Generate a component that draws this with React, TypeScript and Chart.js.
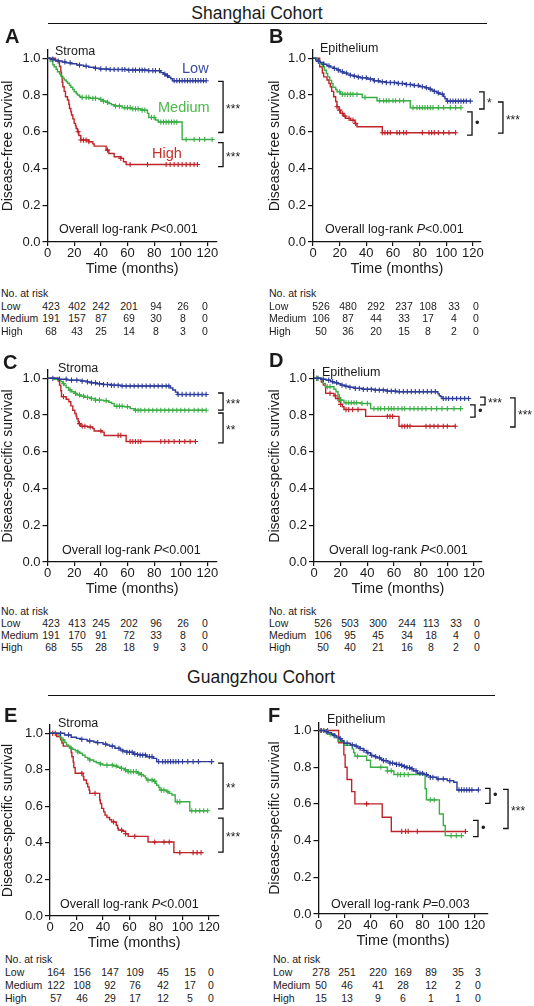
import React, { useEffect, useRef } from "react";
import { Chart, registerables } from "chart.js";

Chart.register(...registerables);

const FONT = "'Liberation Sans', Arial, Helvetica, sans-serif";
const BLUE = "#2d3c9c";
const GREEN = "#3aae45";
const RED = "#bf2329";
const LABEL_BLUE = "#3a4da6";
const LABEL_GREEN = "#4cb74a";
const LABEL_RED = "#c3302c";

const X_TICKS = [0, 20, 40, 60, 80, 100, 120];
const Y_TICKS = [0, 0.2, 0.4, 0.6, 0.8, 1.0];
const GROUPS = ["Low", "Medium", "High"];
const Y_MAX = 1.045;

// ---------- Panel A: Shanghai, Stroma, disease-free ----------
const A_LOW = [[0, 1], [2, 0.995], [5, 0.99], [8, 0.985], [11, 0.98], [14, 0.975], [18, 0.97], [22, 0.963], [27, 0.957], [31, 0.951], [35, 0.946], [39, 0.942], [46, 0.939], [60, 0.936], [75, 0.933], [85, 0.922], [87, 0.914], [89, 0.905], [91, 0.897], [92.5, 0.889], [94, 0.878]];
const A_MED = [[0, 1], [2, 0.985], [4, 0.965], [5, 0.954], [6.5, 0.94], [7.5, 0.927], [9, 0.915], [10, 0.903], [11.5, 0.892], [12.5, 0.882], [14, 0.873], [15, 0.864], [16.5, 0.853], [17.5, 0.842], [19, 0.83], [20, 0.818], [21.5, 0.808], [22.5, 0.8], [24, 0.792], [25, 0.787], [32, 0.782], [39, 0.776], [41, 0.767], [44, 0.76], [46, 0.754], [48, 0.747], [50, 0.74], [56, 0.731], [63, 0.725], [70, 0.718], [75, 0.7], [76, 0.678], [81, 0.664], [83, 0.653], [101, 0.558]];
const A_HIGH = [[0, 1], [6, 0.985], [9, 0.955], [10, 0.925], [10.5, 0.9], [11, 0.87], [11.5, 0.845], [12.5, 0.82], [13.5, 0.791], [15, 0.773], [16, 0.75], [16.5, 0.727], [17.5, 0.709], [18, 0.691], [19, 0.67], [20, 0.646], [21, 0.632], [21.5, 0.618], [22.5, 0.6], [23.5, 0.58], [25, 0.555], [31, 0.546], [34, 0.534], [35, 0.522], [44, 0.5], [46, 0.482], [50, 0.464], [55, 0.455], [57, 0.437], [59, 0.422]];
const A_END = [119, 123.5, 112.5];
const A_LOW_CENS = [4, 8, 13, 17, 24, 29, 36, 40, 44, 47, 50, 53, 56, 58, 61, 64, 66, 69, 71, 73, 76, 79, 81, 84, 88, 90, 95, 97, 99, 101, 103, 105, 107, 109, 111, 113, 115, 117, 119];
const A_MED_CENS = [26, 29, 31, 34, 36, 40, 42, 45, 51, 54, 58, 60, 62, 64, 66, 68, 71, 73, 78, 80, 85, 87, 89, 91, 93, 95, 97, 104, 110, 114, 118, 123.5];
const A_HIGH_CENS = [23, 25, 27, 29, 31, 45, 55, 62, 75, 89, 92, 95, 98, 101, 104, 107, 110, 112.5];
const RISK_A = [[423, 402, 242, 201, 94, 26, 0], [191, 157, 87, 69, 30, 8, 0], [68, 43, 25, 14, 8, 3, 0]];

// ---------- Panel B: Shanghai, Epithelium, disease-free ----------
const B_LOW = [[0, 1], [2, 0.99], [4, 0.983], [5.5, 0.977], [8, 0.968], [10.5, 0.959], [13, 0.952], [15.5, 0.945], [18, 0.936], [20.5, 0.927], [23, 0.92], [25.5, 0.914], [28, 0.908], [30.5, 0.903], [33, 0.898], [35.5, 0.894], [40.5, 0.887], [45.5, 0.878], [50, 0.872], [55, 0.868], [63, 0.863], [70, 0.857], [75, 0.852], [80, 0.846], [84, 0.84], [87, 0.832], [89, 0.827], [91, 0.82], [93, 0.812], [95, 0.805], [98, 0.792], [99, 0.78], [100.5, 0.767]];
const B_MED = [[0, 1], [3, 0.985], [5, 0.97], [7, 0.954], [8.5, 0.935], [10, 0.917], [11, 0.899], [12.5, 0.88], [14, 0.862], [15, 0.842], [17, 0.83], [18, 0.818], [20.5, 0.804], [37, 0.787], [48, 0.769], [73, 0.731]];
const B_HIGH = [[0, 1], [5, 0.954], [7, 0.92], [8, 0.899], [10.5, 0.882], [12, 0.863], [13, 0.845], [14, 0.82], [15.5, 0.791], [17, 0.765], [18, 0.736], [19.5, 0.718], [20.5, 0.7], [23, 0.685], [24.5, 0.673], [28, 0.663], [31.5, 0.645], [33, 0.627], [52, 0.595]];
const B_END = [118, 111, 107];
const B_LOW_CENS = [4, 8, 12, 16, 19, 22, 25, 28, 31, 34, 37, 40, 43, 46, 49, 52, 55, 58, 61, 64, 67, 70, 73, 76, 79, 82, 85, 88, 91, 94, 97, 101, 103, 105, 107, 109, 111, 113, 115, 118];
const B_MED_CENS = [20, 22, 24, 26, 28, 30, 33, 39, 50, 53, 55, 57, 60, 62, 65, 68, 75, 78, 80, 82, 84, 86, 88, 90, 94, 98, 103, 107, 111];
const B_HIGH_CENS = [18, 20, 22, 24, 27, 30, 32, 52, 54, 56, 58, 63, 65, 68, 70, 82, 87, 89, 91, 94, 98, 102, 107];
const RISK_B = [[526, 480, 292, 237, 108, 33, 0], [106, 87, 44, 33, 17, 4, 0], [50, 36, 20, 15, 8, 2, 0]];

// ---------- Panel C: Shanghai, Stroma, disease-specific ----------
const C_LOW = [[0, 1], [8, 0.995], [15, 0.99], [25, 0.985], [30, 0.98], [33, 0.975], [37, 0.97], [42, 0.966], [48, 0.962], [55, 0.958], [92, 0.947], [94, 0.936], [96, 0.925], [97.5, 0.912]];
const C_MED = [[0, 1], [5, 0.995], [8, 0.99], [10, 0.982], [11.5, 0.972], [12.5, 0.963], [14, 0.95], [16, 0.936], [18, 0.927], [20, 0.918], [22, 0.91], [25, 0.903], [28, 0.896], [32, 0.89], [36, 0.881], [42, 0.878], [46, 0.87], [48, 0.863], [50, 0.848], [58, 0.845], [62, 0.835], [65, 0.826]];
const C_HIGH = [[0, 1], [8, 0.985], [9, 0.963], [10, 0.932], [10.5, 0.9], [14, 0.886], [16, 0.872], [17.5, 0.85], [19, 0.826], [20.5, 0.808], [21.5, 0.794], [22, 0.78], [23, 0.765], [23.5, 0.753], [25, 0.739], [30, 0.735], [34, 0.726], [35, 0.713], [41, 0.707], [42.5, 0.689], [59, 0.656]];
const C_END = [119, 119, 111];
const C_LOW_CENS = [4, 9, 14, 18, 22, 26, 30, 33, 36, 39, 42, 45, 48, 50, 53, 56, 59, 62, 65, 68, 71, 74, 77, 80, 83, 86, 89, 91, 98, 101, 104, 107, 110, 113, 116, 119];
const C_MED_CENS = [12, 17, 21, 24, 27, 30, 33, 36, 39, 44, 52, 54, 56, 60, 66, 68, 70, 73, 76, 79, 82, 85, 88, 91, 94, 97, 100, 103, 106, 110, 113, 116, 119];
const C_HIGH_CENS = [12, 24, 26, 28, 32, 40, 53, 55, 62, 64, 66, 68, 70, 85, 88, 91, 95, 99, 103, 107, 111];
const RISK_C = [[423, 413, 245, 202, 96, 26, 0], [191, 170, 91, 72, 33, 8, 0], [68, 55, 28, 18, 9, 3, 0]];

// ---------- Panel D: Shanghai, Epithelium, disease-specific ----------
const D_LOW = [[0, 1], [5, 0.995], [9, 0.99], [12.5, 0.982], [15, 0.976], [18, 0.97], [20, 0.963], [23, 0.957], [26, 0.951], [30, 0.945], [37, 0.94], [45, 0.936], [55, 0.93], [62, 0.927], [93, 0.915], [94, 0.905], [95, 0.9], [96, 0.89]];
const D_MED = [[0, 1], [6, 0.99], [7, 0.972], [8.5, 0.954], [15, 0.94], [16.5, 0.927], [18, 0.91], [19, 0.895], [20, 0.881], [22.5, 0.867], [35, 0.863], [42.5, 0.835]];
const D_HIGH = [[0, 1], [5.5, 0.98], [7, 0.963], [8.75, 0.918], [15, 0.905], [16.25, 0.89], [18.75, 0.872], [20, 0.858], [21.25, 0.845], [22.5, 0.83], [38.75, 0.793], [63.75, 0.739]];
const D_END = [116, 110, 106];
const D_LOW_CENS = [3, 7, 11, 14, 17, 21, 24, 27, 31, 34, 37, 40, 43, 46, 49, 52, 55, 58, 61, 64, 67, 70, 73, 76, 79, 82, 85, 88, 91, 97, 99, 101, 104, 107, 110, 113, 116];
const D_MED_CENS = [2, 10, 12, 20, 24, 26, 28, 30, 32, 36, 40, 45, 48, 50, 53, 56, 58, 60, 63, 66, 68, 72, 75, 78, 81, 84, 88, 92, 96, 100, 105, 110];
const D_HIGH_CENS = [2, 12, 16, 18, 20, 24, 26, 29, 33, 55, 57, 59, 66, 68, 70, 72, 84, 87, 90, 93, 97, 100, 106];
const RISK_D = [[526, 503, 300, 244, 113, 33, 0], [106, 95, 45, 34, 18, 4, 0], [50, 40, 21, 16, 8, 2, 0]];

// ---------- Panel E: Guangzhou, Stroma, disease-specific ----------
const E_LOW = [[0, 1], [11, 0.991], [16, 0.978], [20, 0.972], [23, 0.967], [28, 0.958], [33, 0.952], [35, 0.949], [40, 0.941], [43, 0.936], [45, 0.93], [49, 0.918], [53, 0.909], [55, 0.903], [58, 0.896], [63, 0.887], [66, 0.884], [68, 0.881], [73, 0.872], [78, 0.863], [80.5, 0.845]];
const E_MED = [[0, 1], [6, 0.991], [7.5, 0.977], [9, 0.963], [11, 0.95], [12.5, 0.936], [14, 0.927], [15, 0.918], [17, 0.912], [19, 0.905], [21, 0.898], [22.5, 0.891], [24.5, 0.88], [26.5, 0.868], [28.5, 0.861], [30, 0.854], [33, 0.846], [35, 0.839], [38, 0.832], [40, 0.826], [48, 0.821], [51, 0.814], [53, 0.808], [56, 0.8], [59, 0.79], [66, 0.781], [69, 0.774], [70.5, 0.766], [72, 0.755], [73, 0.744], [78, 0.738], [79.5, 0.727], [80.5, 0.716], [82, 0.703], [83, 0.689], [88, 0.68], [90, 0.671], [92, 0.662], [94.5, 0.625], [105.5, 0.576]];
const E_HIGH = [[0, 1], [5, 0.982], [8, 0.965], [9, 0.947], [10, 0.93], [15, 0.918], [16, 0.895], [16.5, 0.872], [17.5, 0.842], [18, 0.812], [19, 0.781], [25, 0.763], [25.5, 0.744], [27.5, 0.725], [28.5, 0.707], [29.5, 0.689], [30, 0.671], [37.5, 0.635], [38, 0.616], [39, 0.589], [40.5, 0.57], [41.5, 0.552], [43, 0.539], [45, 0.527], [46.5, 0.515], [50, 0.497], [51, 0.482], [51.5, 0.47], [55, 0.464], [57, 0.45], [59, 0.436], [74, 0.405], [93.5, 0.347]];
const E_END = [122, 119, 114];
const E_LOW_CENS = [8, 14, 24, 30, 36, 42, 47, 52, 55, 58, 60, 62, 64, 66, 68, 70, 72, 75, 77, 82, 85, 87, 89, 91, 93, 95, 97, 100, 104, 108, 112, 122];
const E_MED_CENS = [10, 16, 21, 30, 38, 43, 47, 50, 54, 57, 59, 61, 63, 65, 67, 69, 74, 77, 79, 84, 86, 89, 96, 98, 107, 110, 113, 116, 119];
const E_HIGH_CENS = [2, 4, 24, 34, 48, 54, 57, 64, 79, 86, 90, 98, 108, 111, 114];
const RISK_E = [[164, 156, 147, 109, 45, 15, 0], [122, 108, 92, 76, 42, 17, 0], [57, 46, 29, 17, 12, 5, 0]];

// ---------- Panel F: Guangzhou, Epithelium, disease-specific ----------
const F_LOW = [[0, 1], [5, 0.994], [7, 0.988], [10, 0.98], [12, 0.972], [14, 0.964], [16, 0.955], [18, 0.944], [19.5, 0.931], [24.5, 0.922], [28, 0.915], [30, 0.91], [32, 0.902], [34.5, 0.891], [37, 0.879], [40, 0.864], [43, 0.858], [45, 0.851], [48, 0.843], [50, 0.836], [53, 0.829], [55, 0.822], [60, 0.815], [63, 0.81], [65.5, 0.804], [68, 0.798], [70.5, 0.791], [73, 0.78], [76, 0.767], [81, 0.76], [84, 0.753], [86, 0.745], [91, 0.736], [99, 0.727], [104, 0.718], [106.5, 0.676]];
const F_MED = [[0, 1], [7, 0.98], [13, 0.96], [15, 0.94], [20, 0.92], [26, 0.9], [27, 0.88], [28, 0.86], [37, 0.838], [40, 0.8], [53, 0.78], [58, 0.76], [82, 0.683], [83, 0.622], [93, 0.545], [96, 0.482], [97.5, 0.427]];
const F_HIGH = [[0, 1], [15.5, 0.933], [19.5, 0.867], [20.5, 0.8], [22, 0.733], [25.5, 0.667], [28, 0.6], [49, 0.527], [56, 0.45]];
const F_END = [123, 110, 113];
const F_LOW_CENS = [2, 6, 12, 17, 22, 26, 29, 32, 35, 38, 41, 44, 47, 50, 52, 55, 57, 60, 62, 64, 66, 68, 70, 72, 75, 78, 80, 83, 86, 88, 92, 96, 101, 108, 110, 112, 114, 116, 118, 123];
const F_MED_CENS = [4, 9, 30, 48, 53, 56, 61, 63, 66, 69, 86, 89, 102, 106, 110];
const F_HIGH_CENS = [2, 4, 7, 37, 64, 67, 69, 76, 113];
const RISK_F = [[278, 251, 220, 169, 89, 35, 3], [50, 46, 41, 28, 12, 2, 0], [15, 13, 9, 6, 1, 1, 0]];

type Curve = { steps: number[][]; end: number; cens: number[]; color: string };
type Bracket = { hi: number; lo: number; at: number; mark: string };
type PanelCfg = {
  id: string; col: number; axisLeft: number; pxPerMo: number; xMax: number;
  y1: number; y0: number; yTitle: string; curves: Curve[]; brackets: Bracket[];
};

function mkCurves(steps: number[][][], ends: number[], cens: number[][]): Curve[] {
  const colors = [BLUE, GREEN, RED];
  return steps.map((s, i) => ({ steps: s, end: ends[i], cens: cens[i], color: colors[i] }));
}

const PANELS: PanelCfg[] = [
  {
    id: "A", col: 0, axisLeft: 47.5, pxPerMo: 1.333, xMax: 127, y1: 58.3, y0: 242,
    yTitle: "Disease-free survival",
    curves: mkCurves([A_LOW, A_MED, A_HIGH], A_END, [A_LOW_CENS, A_MED_CENS, A_HIGH_CENS]),
    brackets: [
      { hi: 0.874, lo: 0.596, at: 131.7, mark: "***" },
      { hi: 0.541, lo: 0.41, at: 131.7, mark: "***" },
    ],
  },
  {
    id: "B", col: 267, axisLeft: 313, pxPerMo: 1.333, xMax: 126, y1: 58.3, y0: 242,
    yTitle: "Disease-free survival",
    curves: mkCurves([B_LOW, B_MED, B_HIGH], B_END, [B_LOW_CENS, B_MED_CENS, B_HIGH_CENS]),
    brackets: [
      { hi: 0.817, lo: 0.724, at: 128.3, mark: "*" },
      { hi: 0.708, lo: 0.582, at: 119.3, mark: "\u2022" },
      { hi: 0.762, lo: 0.593, at: 142.5, mark: "***" },
    ],
  },
  {
    id: "C", col: 0, axisLeft: 47.5, pxPerMo: 1.333, xMax: 127, y1: 378.3, y0: 562,
    yTitle: "Disease-specific survival",
    curves: mkCurves([C_LOW, C_MED, C_HIGH], C_END, [C_LOW_CENS, C_MED_CENS, C_HIGH_CENS]),
    brackets: [
      { hi: 0.92, lo: 0.827, at: 131.7, mark: "***" },
      { hi: 0.811, lo: 0.648, at: 131.7, mark: "**" },
    ],
  },
  {
    id: "D", col: 267, axisLeft: 314, pxPerMo: 1.333, xMax: 126, y1: 378.3, y0: 562,
    yTitle: "Disease-specific survival",
    curves: mkCurves([D_LOW, D_MED, D_HIGH], D_END, [D_LOW_CENS, D_MED_CENS, D_HIGH_CENS]),
    brackets: [
      { hi: 0.898, lo: 0.855, at: 128.3, mark: "***" },
      { hi: 0.855, lo: 0.789, at: 120.8, mark: "\u2022" },
      { hi: 0.893, lo: 0.735, at: 150.8, mark: "***" },
    ],
  },
  {
    id: "E", col: 0, axisLeft: 50, pxPerMo: 1.325, xMax: 127, y1: 733.3, y0: 916,
    yTitle: "Disease-specific survival",
    curves: mkCurves([E_LOW, E_MED, E_HIGH], E_END, [E_LOW_CENS, E_MED_CENS, E_HIGH_CENS]),
    brackets: [
      { hi: 0.837, lo: 0.586, at: 130.6, mark: "**" },
      { hi: 0.536, lo: 0.35, at: 130.6, mark: "***" },
    ],
  },
  {
    id: "F", col: 267, axisLeft: 318.5, pxPerMo: 1.3, xMax: 130, y1: 730.5, y0: 913.5,
    yTitle: "Disease-specific survival",
    curves: mkCurves([F_LOW, F_MED, F_HIGH], F_END, [F_LOW_CENS, F_MED_CENS, F_HIGH_CENS]),
    brackets: [
      { hi: 0.685, lo: 0.603, at: 131.9, mark: "\u2022" },
      { hi: 0.51, lo: 0.422, at: 122.7, mark: "\u2022" },
      { hi: 0.679, lo: 0.466, at: 145.8, mark: "***" },
    ],
  },
];

function survAt(steps: number[][], t: number): number {
  let v = 1;
  for (const [x, y] of steps) if (x <= t) v = y;
  return v;
}

const PANEL_W = 267;
const X_SCALE_H = 36;

function KMPanel({ cfg }: { cfg: PanelCfg }) {
  const ref = useRef<HTMLCanvasElement | null>(null);
  const canvasTop = Math.round(cfg.y1 - 24);
  const height = Math.round(cfg.y0 + X_SCALE_H - canvasTop);

  useEffect(() => {
    if (!ref.current) return;
    const yTopPx = cfg.y0 - (cfg.y0 - cfg.y1) * Y_MAX;
    const xRightPx = cfg.axisLeft + cfg.xMax * cfg.pxPerMo;
    const datasets: any[] = [];
    cfg.curves.forEach((c) => {
      const pts = c.steps.map(([x, y]) => ({ x, y }));
      pts.push({ x: c.end, y: c.steps[c.steps.length - 1][1] });
      datasets.push({
        data: pts, borderColor: c.color, borderWidth: 1.4, stepped: true,
        pointRadius: 0, fill: false,
      });
      datasets.push({
        data: c.cens.map((t) => ({ x: t, y: survAt(c.steps, t) })),
        showLine: false, pointStyle: "cross", pointRadius: 2.6, pointBorderWidth: 1.1,
        borderColor: c.color, backgroundColor: c.color, pointBorderColor: c.color,
      });
    });

    const bracketPlugin = {
      id: "brackets" + cfg.id,
      afterDatasetsDraw(chart: any) {
        const ctx = chart.ctx;
        const xs = chart.scales.x;
        const ys = chart.scales.y;
        ctx.save();
        for (const b of cfg.brackets) {
          const x = xs.getPixelForValue(b.at);
          const yT = ys.getPixelForValue(b.hi);
          const yB = ys.getPixelForValue(b.lo);
          ctx.strokeStyle = "#111";
          ctx.lineWidth = 1.3;
          ctx.beginPath();
          ctx.moveTo(x - 5, yT);
          ctx.lineTo(x, yT);
          ctx.lineTo(x, yB);
          ctx.lineTo(x - 5, yB);
          ctx.stroke();
          ctx.fillStyle = "#222";
          ctx.font = `${b.mark === "\u2022" ? 13 : 12}px ${FONT}`;
          ctx.textAlign = "left";
          ctx.textBaseline = "middle";
          const dy = b.mark.includes("*") ? 3 : 0;
          ctx.fillText(b.mark, x + 3, (yT + yB) / 2 + dy);
        }
        ctx.restore();
      },
    };

    const tickFont = { family: FONT, size: 13 };
    const chart = new Chart(ref.current, {
      type: "line",
      data: { datasets },
      plugins: [bracketPlugin],
      options: {
        responsive: false,
        animation: false,
        devicePixelRatio: 1,
        events: [],
        layout: {
          padding: {
            left: 0,
            top: yTopPx - canvasTop,
            right: PANEL_W - (xRightPx - cfg.col),
            bottom: 0,
          },
        },
        plugins: { legend: { display: false }, tooltip: { enabled: false } },
        scales: {
          x: {
            type: "linear",
            min: 0,
            max: cfg.xMax,
            afterBuildTicks: (s: any) => { s.ticks = X_TICKS.map((v) => ({ value: v })); },
            afterFit: (s: any) => { s.height = X_SCALE_H; },
            grid: { drawOnChartArea: false, drawTicks: true, tickLength: 4, color: "#111", lineWidth: 1.2 },
            border: { display: true, color: "#111", width: 1.3 },
            ticks: { font: tickFont, color: "#1a1a1a", padding: 0, maxRotation: 0, autoSkip: false },
            title: { display: true, text: "Time (months)", font: { family: FONT, size: 14.5 }, color: "#1a1a1a", padding: 0 },
          },
          y: {
            type: "linear",
            min: 0,
            max: Y_MAX,
            afterBuildTicks: (s: any) => { s.ticks = Y_TICKS.map((v) => ({ value: v })); },
            afterFit: (s: any) => { s.width = cfg.axisLeft - cfg.col; },
            grid: { drawOnChartArea: false, drawTicks: true, tickLength: 5, color: "#111", lineWidth: 1.2 },
            border: { display: true, color: "#111", width: 1.3 },
            ticks: { font: tickFont, color: "#1a1a1a", padding: 2, callback: (v: any) => Number(v).toFixed(1) },
            title: { display: true, text: cfg.yTitle, font: { family: FONT, size: 14 }, color: "#1a1a1a", padding: 0 },
          },
        },
      } as any,
    });
    return () => chart.destroy();
  }, [cfg]);

  return (
    <canvas
      ref={ref}
      width={PANEL_W}
      height={height}
      style={{ position: "absolute", left: cfg.col, top: canvasTop, width: PANEL_W, height }}
    />
  );
}

function Txt(props: {
  x: number; y: number; size: number; children: React.ReactNode;
  bold?: boolean; color?: string; anchor?: "start" | "middle";
}) {
  const { x, y, size, children, bold, color, anchor } = props;
  return (
    <div
      style={{
        position: "absolute", left: x, top: y, fontSize: size, fontFamily: FONT,
        fontWeight: bold ? 700 : 400, color: color || "#1a1a1a", whiteSpace: "nowrap",
        lineHeight: 1.15, transform: `translate(${anchor === "middle" ? "-50%" : "0"}, -50%)`,
      }}
    >
      {children}
    </div>
  );
}

function RiskTable({ labelX, cols, ys, rows }: { labelX: number; cols: number[]; ys: number[]; rows: number[][] }) {
  return (
    <>
      <Txt x={labelX} y={ys[0]} size={10.5}>No. at risk</Txt>
      {rows.map((r, i) => (
        <React.Fragment key={i}>
          <Txt x={labelX} y={ys[i + 1]} size={10.5}>{GROUPS[i]}</Txt>
          {r.map((v, j) => (
            <Txt key={j} x={cols[j]} y={ys[i + 1]} size={10.5} anchor="middle">{v}</Txt>
          ))}
        </React.Fragment>
      ))}
    </>
  );
}

function LogRank({ x, y, p }: { x: number; y: number; p: string }) {
  return (
    <Txt x={x} y={y} size={12.5}>
      Overall log-rank <i>P</i>{p}
    </Txt>
  );
}

export default function App() {
  return (
    <div
      style={{
        position: "absolute", left: 0, top: 0, width: 534, height: 1006,
        background: "#fff", overflow: "hidden", fontFamily: FONT,
      }}
    >
      <Txt x={257} y={13} size={17.5} anchor="middle">Shanghai Cohort</Txt>
      <div style={{ position: "absolute", left: 48, top: 22.5, width: 439, height: 0, borderTop: "1.3px solid #111" }} />
      <Txt x={261} y={677} size={17.5} anchor="middle">Guangzhou Cohort</Txt>
      <div style={{ position: "absolute", left: 48, top: 694.5, width: 447, height: 0, borderTop: "1.3px solid #111" }} />

      {PANELS.map((p) => (
        <KMPanel key={p.id} cfg={p} />
      ))}

      <Txt x={5} y={36} size={20} bold>A</Txt>
      <Txt x={269} y={36} size={20} bold>B</Txt>
      <Txt x={3} y={362} size={20} bold>C</Txt>
      <Txt x={269} y={360} size={20} bold>D</Txt>
      <Txt x={4} y={715} size={20} bold>E</Txt>
      <Txt x={268} y={715} size={20} bold>F</Txt>

      <Txt x={55} y={51} size={12.5}>Stroma</Txt>
      <Txt x={320} y={48} size={12.5}>Epithelium</Txt>
      <Txt x={58} y={368} size={12.5}>Stroma</Txt>
      <Txt x={322} y={372} size={12.5}>Epithelium</Txt>
      <Txt x={58} y={723} size={12.5}>Stroma</Txt>
      <Txt x={327} y={719} size={12.5}>Epithelium</Txt>

      <Txt x={182} y={68} size={14.5} color={LABEL_BLUE}>Low</Txt>
      <Txt x={158} y={107} size={14.5} color={LABEL_GREEN}>Medium</Txt>
      <Txt x={152} y={153} size={14.5} color={LABEL_RED}>High</Txt>

      <LogRank x={59} y={229} p="<0.001" />
      <LogRank x={325} y={229} p="<0.001" />
      <LogRank x={62} y={550} p="<0.001" />
      <LogRank x={329} y={550} p="<0.001" />
      <LogRank x={60} y={904} p="<0.001" />
      <LogRank x={331} y={904} p="=0.003" />

      <RiskTable labelX={1} cols={[51, 77, 101, 129, 156, 183, 205]} ys={[293, 306, 318, 331]} rows={RISK_A} />
      <RiskTable labelX={269} cols={[321, 348, 376, 404, 428, 454, 476]} ys={[293, 306, 318, 331]} rows={RISK_B} />
      <RiskTable labelX={1} cols={[51, 77, 101, 129, 156, 183, 205]} ys={[611, 623, 635, 647]} rows={RISK_C} />
      <RiskTable labelX={269} cols={[323, 350, 378, 407, 431, 456, 477]} ys={[611, 623, 635, 647]} rows={RISK_D} />
      <RiskTable labelX={5} cols={[56, 82, 110, 135, 163, 190, 211]} ys={[959, 972, 985, 998]} rows={RISK_E} />
      <RiskTable labelX={273} cols={[321, 347, 378, 403, 431, 458, 478]} ys={[959, 972, 985, 998]} rows={RISK_F} />
    </div>
  );
}
